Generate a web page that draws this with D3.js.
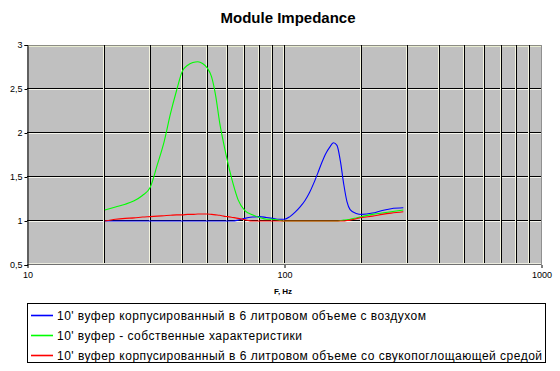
<!DOCTYPE html>
<html><head><meta charset="utf-8">
<script src="https://cdn.jsdelivr.net/npm/d3@7"></script>
<style>html,body{margin:0;padding:0;background:#fff}svg{display:block}</style>
</head><body>
<svg id="c" width="560" height="371"></svg>
<script>
const title = "Module Impedance";
const xTitle = "F, Hz";
const freqs = [20,22,24,26,28,30,32,34,36,38,40,42,44,46,48,50,52,54,56,58,60,63,66,70,75,80,85,90,95,100,105,110,115,120,125,130,135,140,145,150,155,160,165,170,175,180,190,200,220,240,260,290];
const blueVals = [1.0,1.0,1.0,1.0,1.0,1.0,1.0,1.0,1.0,1.0,1.0,1.0,1.0,1.0,1.0,1.0,1.0,1.0,1.0,1.0,1.0,1.0,1.01,1.03,1.045,1.05,1.04,1.03,1.02,1.02,1.05,1.10,1.16,1.23,1.32,1.43,1.55,1.67,1.77,1.84,1.89,1.86,1.68,1.42,1.22,1.13,1.085,1.075,1.09,1.12,1.14,1.15];
const greenVals = [1.125,1.16,1.19,1.23,1.29,1.38,1.64,1.90,2.22,2.48,2.70,2.77,2.80,2.81,2.79,2.74,2.64,2.42,2.11,1.88,1.68,1.43,1.24,1.12,1.07,1.04,1.02,1.02,1.01,1.0,1.0,1.0,1.0,1.0,1.0,1.0,1.0,1.0,1.0,1.0,1.0,1.0,1.005,1.01,1.015,1.02,1.035,1.05,1.075,1.09,1.105,1.125];
const redVals = [1.0,1.02,1.03,1.035,1.045,1.05,1.055,1.06,1.065,1.07,1.07,1.075,1.075,1.08,1.08,1.08,1.075,1.07,1.065,1.055,1.05,1.04,1.03,1.015,1.0,1.0,1.0,1.0,1.0,1.0,1.0,1.0,1.0,1.0,1.0,1.0,1.0,1.0,1.0,1.0,1.0,1.0,1.0,1.0,1.005,1.01,1.025,1.04,1.055,1.075,1.09,1.105];
const seriesNames = [
  "10' вуфер корпусированный в 6 литровом объеме с воздухом",
  "10' вуфер - собственные характеристики",
  "10' вуфер корпусированный в 6 литровом объеме со свукопоглощающей средой"
];
const seriesColors = ["#0000ff","#00ff00","#ff0000"];
const seriesValues = [blueVals, greenVals, redVals];
const yTicks = [0.5,1,1.5,2,2.5,3];
const xTickLabels = [10,100,1000];
const xGrid = [20,30,40,50,60,70,80,90,100,200,300,400,500,600,700,800,900];
const legendWidths = [369,245,485];

const svg = d3.select("#c");
const x = d3.scaleLog().domain([10,1000]).range([27.5,541.5]);
const y = d3.scaleLinear().domain([0.5,3]).range([265,45]);
const font = "'Liberation Sans', Arial, sans-serif";

svg.append("text").attr("x",288).attr("y",23).attr("text-anchor","middle")
  .attr("font-family",font).attr("font-weight","bold").attr("font-size",15).text(title);

// plot area
svg.append("rect").attr("x",27).attr("y",45).attr("width",515).attr("height",220).attr("fill","#c0c0c0");
svg.append("line").attr("x1",27).attr("x2",542).attr("y1",45.5).attr("y2",45.5).attr("stroke","#8c8c84");
svg.append("line").attr("x1",27).attr("x2",542).attr("y1",46.5).attr("y2",46.5).attr("stroke","#e8ecd0");
// horizontal grid
yTicks.filter(v=>v>0.5 && v<3).forEach(v=>{
  const yy = Math.round(y(v));
  svg.append("line").attr("x1",27).attr("x2",542).attr("y1",yy-0.5).attr("y2",yy-0.5).attr("stroke","#000");
  svg.append("line").attr("x1",27).attr("x2",542).attr("y1",yy+0.5).attr("y2",yy+0.5).attr("stroke","#f4f4ec");
});
// vertical grid
xGrid.forEach(f=>{
  const xx = Math.floor(x(f));
  svg.append("line").attr("x1",xx-0.5).attr("x2",xx-0.5).attr("y1",46).attr("y2",264).attr("stroke","#f4f4e0");
  svg.append("line").attr("x1",xx+0.5).attr("x2",xx+0.5).attr("y1",45).attr("y2",264).attr("stroke","#000");
});
// bottom & right borders
svg.append("line").attr("x1",27).attr("x2",542).attr("y1",263.5).attr("y2",263.5).attr("stroke","#ecece0");
svg.append("line").attr("x1",27).attr("x2",542).attr("y1",264.5).attr("y2",264.5).attr("stroke","#707070");
svg.append("line").attr("x1",541.5).attr("x2",541.5).attr("y1",45).attr("y2",265).attr("stroke","#909090");

// series
const line = d3.line().x(d=>x(d[0])).y(d=>y(d[1])).curve(d3.curveMonotoneX);
seriesValues.forEach((vals,i)=>{
  svg.append("path").attr("d",line(freqs.map((f,j)=>[f,vals[j]])))
    .attr("fill","none").attr("stroke",seriesColors[i]).attr("stroke-width",1.1);
});

// axes
const yAxis = d3.axisLeft(y).tickValues(yTicks).tickSize(3).tickPadding(2)
  .tickFormat(d=>String(d).replace(".",","));
const gy = svg.append("g").attr("transform","translate(27.5,0)").call(yAxis);
gy.select(".domain").attr("stroke","#000");
gy.selectAll("line").attr("stroke","#000");
gy.selectAll("text").attr("font-family",font).attr("font-size",9).attr("fill","#000");

const xAxis = d3.axisBottom(x).tickValues(xTickLabels).tickSize(3).tickPadding(4).tickFormat(d3.format("d"));
const gx = svg.append("g").attr("transform","translate(0,265)").call(xAxis);
gx.select(".domain").remove();
gx.selectAll("line").attr("stroke","#000");
gx.selectAll("text").attr("font-family",font).attr("font-size",9).attr("fill","#000");

svg.append("text").attr("x",283).attr("y",294).attr("text-anchor","middle")
  .attr("font-family",font).attr("font-weight","bold").attr("font-size",8).text(xTitle);

// legend
svg.append("rect").attr("x",27.5).attr("y",303.5).attr("width",518).attr("height",59)
  .attr("fill","#fff").attr("stroke","#000");
seriesNames.forEach((n,i)=>{
  const cy = 315.5 + i*20;
  svg.append("rect").attr("x",31).attr("y",cy-0.8).attr("width",22).attr("height",1.6)
    .attr("fill",seriesColors[i]);
  svg.append("text").attr("x",57).attr("y",cy+4.5).attr("font-family",font).attr("font-size",12)
    .attr("textLength",legendWidths[i]).attr("lengthAdjust","spacing").text(n);
});
</script>
</body></html>
